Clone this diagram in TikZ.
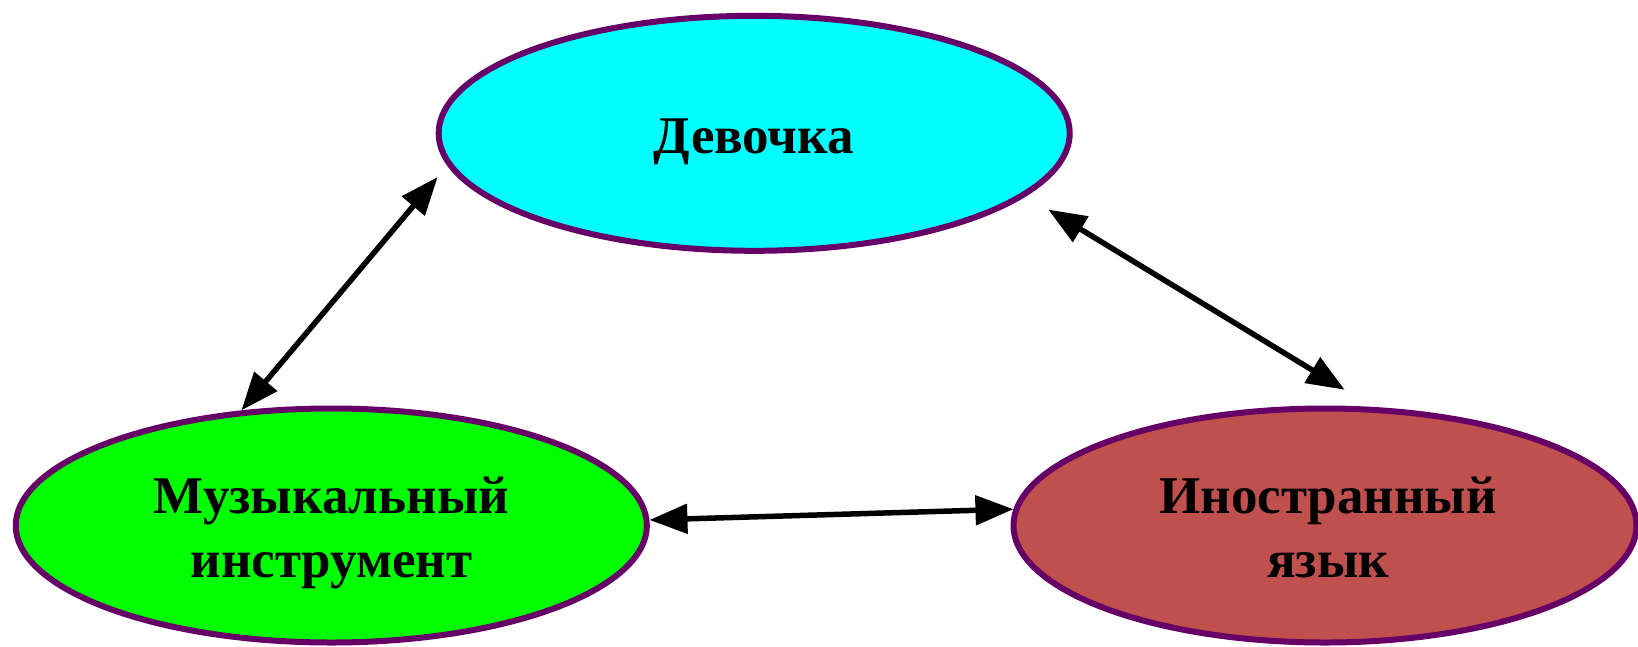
\documentclass[tikz,border=0pt]{standalone}
\usepackage{fontspec}
\setmainfont{Liberation Serif}
\usetikzlibrary{shapes.geometric,arrows.meta}
\definecolor{edgepurple}{HTML}{660066}
\definecolor{girlfill}{HTML}{00FFFF}
\definecolor{musfill}{HTML}{00FF00}
\definecolor{langfill}{HTML}{C0504D}
\begin{document}
\begin{tikzpicture}[x=1pt,y=-1pt,
  bubble/.style={ellipse, draw=edgepurple, line width=6pt, inner sep=0pt},
  lbl/.style={font=\bfseries\fontsize{53}{64}\selectfont, align=center, inner sep=0pt},
  link/.style={line width=5.5pt, {Triangle[length=38pt,width=29pt]}-{Triangle[length=38pt,width=29pt]}}]
\useasboundingbox (0,0) rectangle (1638,646);
\node[bubble, fill=girlfill, minimum width=631pt, minimum height=235pt] (girl) at (754.2,133.3) {};
\node[bubble, fill=musfill, minimum width=631pt, minimum height=234pt] (mus) at (331.3,525.5) {};
\node[bubble, fill=langfill, minimum width=623pt, minimum height=234pt] (lang) at (1325,525.5) {};
\node[lbl, anchor=base] (girlT) at (754,153) {Девочка};
\node[lbl, anchor=base] (musT) at (331.5,577) {Музыкальный\\инструмент};
\node[lbl, anchor=base] (langT) at (1328,577) {Иностранный\\язык};
\draw[link, shorten >=15pt] (mus.128) -- (girl.186.8);
\draw[link, shorten <=26pt, shorten >=33pt] (girl.-13.4) -- (lang.68.3);
\draw[link] (mus.1.1) -- (lang.177.6);
\end{tikzpicture}
\end{document}
